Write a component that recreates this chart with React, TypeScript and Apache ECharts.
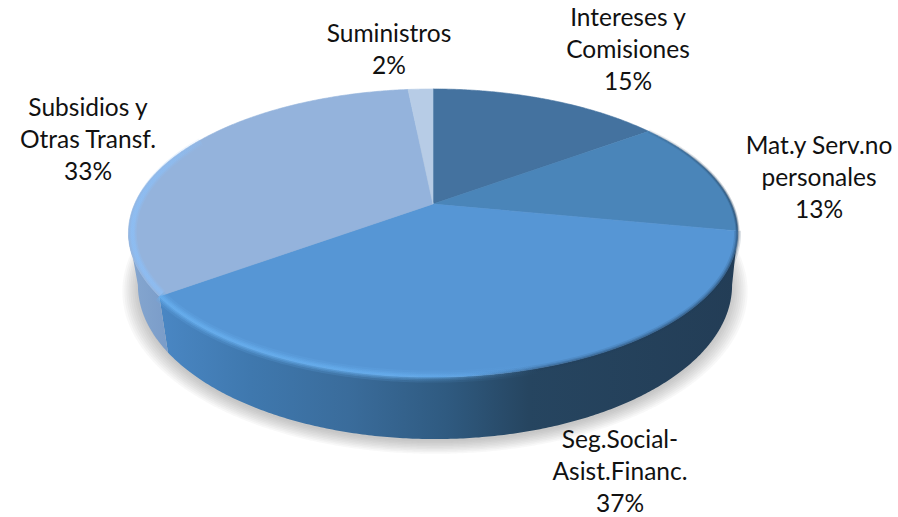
import React, { useEffect, useRef } from "react";
import * as echarts from "echarts";

const categories = ["Intereses y\nComisiones", "Mat.y Serv.no\npersonales", "Seg.Social-\nAsist.Financ.", "Subsidios y\nOtras Transf.", "Suministros"];
const shares = [15, 13, 37, 33.4, 1.6];
const topColors = ["#44729f", "#4a85b9", "#5696d5", "#94b3dc", "#b7cce6"];
const labelCentres = [[628, 0], [819, 128], [620, 422], [88, 90], [389, 16]];

const total = shares.reduce((a, b) => a + b, 0);
const K = 0.2014;
const TOP = { cx: 433, cy: 204, a: 298.3, b: 138.2 };
const BOTTOM = { cx: 435, cy: 254, a: 291, b: 147.8 };
const RAD = Math.PI / 180;
const LEFT_EXTREME = 360 - Math.acos(-K) / RAD;
const RIGHT_EXTREME = Math.acos(-K) / RAD;

const startAngle = (i: number) => (shares.slice(0, i).reduce((a, b) => a + b, 0) / total) * 360;
const project = (p: typeof TOP, deg: number, scale = 1) => {
  const u = Math.sin(deg * RAD) * scale;
  const v = -Math.cos(deg * RAD) * scale;
  const d = 1 - K * v;
  return [p.cx + (p.a * u) / d, p.cy + (p.b * v) / d];
};
const arc = (p: typeof TOP, from: number, to: number, scale = 1) => {
  const n = Math.max(2, Math.ceil(Math.abs(to - from) * 2));
  const out: number[][] = [];
  for (let i = 0; i <= n; i++) out.push(project(p, from + ((to - from) * i) / n, scale));
  return out;
};
const hGrad = (x0: number, x1: number, stops: [number, string][]) =>
  new echarts.graphic.LinearGradient(x0, 0, x1, 0, stops.map(([offset, color]) => ({ offset, color })), true);

const wallFills = [
  "#233d56",
  "#233d56",
  () => hGrad(158, 737, [[0, "#4a87c4"], [0.16, "#3f78ae"], [0.33, "#3a6c9b"], [0.5, "#2f5a80"], [0.64, "#264560"], [1, "#233d56"]]),
  () => hGrad(128, 165, [[0, "#86a7d0"], [1, "#7b9dc9"]]),
  "#7b9dc9",
];

function renderShadow(params: any) {
  if (params.dataIndex !== 0) return { type: "group", children: [] };
  const children: any[] = [];
  for (let s = 0; s < 9; s++) {
    const grow = 1.05 - s * 0.0065;
    children.push({
      type: "polygon",
      shape: { points: arc({ ...BOTTOM, cy: BOTTOM.cy + 3 }, 0, 360, grow) },
      style: { fill: "rgba(90,90,90,0.045)" },
    });
  }
  return { type: "group", children };
}
function renderWall(params: any) {
  const i = params.dataIndex;
  const a = Math.max(startAngle(i), RIGHT_EXTREME);
  const b = Math.min(startAngle(i + 1), LEFT_EXTREME);
  if (b <= a) return { type: "group", children: [] };
  const f = wallFills[i];
  const fill = typeof f === "function" ? f() : f;
  return {
    type: "polygon",
    shape: { points: [...arc(TOP, a, b), ...arc(BOTTOM, b, a)] },
    style: { fill },
  };
}
function renderTop(params: any) {
  const i = params.dataIndex;
  const c = topColors[i];
  return {
    type: "polygon",
    shape: { points: [[TOP.cx, TOP.cy], ...arc(TOP, startAngle(i), startAngle(i + 1))] },
    style: { fill: c, stroke: c, lineWidth: 0.6 },
  };
}
function renderRim(params: any) {
  const i = params.dataIndex;
  const a = startAngle(i);
  const b = startAngle(i + 1);
  const line = (from: number, to: number, scale: number, lineWidth: number, stroke: any) => ({
    type: "polyline",
    shape: { points: arc(TOP, from, to, scale) },
    style: { fill: "none", stroke, lineWidth, lineCap: "butt" },
  });
  const rgba = (rgb: string, alpha: number) => `rgba(${rgb},${alpha})`;
  const children: any[] = [];
  if (i === 2) {
    const glow = (alpha: number) =>
      hGrad(160, 540, [[0, rgba("104,176,240", alpha)], [0.6, rgba("104,176,240", alpha * 0.85)], [1, rgba("104,176,240", 0)]]);
    [[12, 0.18], [8, 0.28], [5, 0.4], [2.5, 0.45]].forEach(([w, al]) => children.push(line(b, 150, 0.998, w, glow(al))));
    const shade = (alpha: number) =>
      hGrad(735, 470, [[0, rgba("30,60,90", alpha)], [0.7, rgba("30,60,90", alpha * 0.7)], [1, rgba("30,60,90", 0)]]);
    [[7, 0.15], [4, 0.25], [2, 0.3]].forEach(([w, al]) => children.push(line(a, 178, 1, w, shade(al))));
  }
  if (i === 3) {
    const glow = (alpha: number) =>
      hGrad(128, 215, [[0, rgba("140,190,245", alpha)], [0.5, rgba("140,190,245", alpha * 0.7)], [1, rgba("140,190,245", 0)]]);
    [[8, 0.35], [5, 0.5], [3, 0.5]].forEach(([w, al]) => children.push(line(a + 0.5, 300, 0.987, w, glow(al))));
  }
  if (i === 1) {
    const shade = (alpha: number) => hGrad(640, 737, [[0, rgba("30,60,90", alpha * 0.2)], [1, rgba("30,60,90", alpha)]]);
    [[4, 0.25], [2, 0.4]].forEach(([w, al]) => children.push(line(a, b, 1, w, shade(al))));
  }
  return { type: "group", children };
}
function renderLabel(params: any) {
  const i = params.dataIndex;
  const [x, y] = labelCentres[i];
  return {
    type: "text",
    style: {
      text: `${categories[i]}\n${Math.round((shares[i] / total) * 100)}%`,
      x,
      y,
      align: "center",
      textAlign: "center",
      verticalAlign: "top",
      font: "24.5px Lato, 'Open Sans', sans-serif",
      lineHeight: 32,
      fill: "#111111",
    },
  };
}

export default function App() {
  const ref = useRef<HTMLDivElement>(null);
  useEffect(() => {
    const chart = echarts.init(ref.current!, undefined, { renderer: "svg" });
    const layer = (renderItem: any, z: number) => ({
      type: "custom",
      coordinateSystem: "none",
      silent: true,
      clip: false,
      z,
      renderItem,
      data: shares.map((s, i) => [i, s]),
    });
    chart.setOption({
      animation: false,
      backgroundColor: "#ffffff",
      series: [
        layer(renderShadow, 1),
        layer(renderWall, 2),
        layer(renderTop, 3),
        layer(renderRim, 4),
        layer(renderLabel, 5),
      ],
    });
    return () => chart.dispose();
  }, []);
  return <div ref={ref} style={{ position: "fixed", left: 0, top: 0, width: 898, height: 517 }} />;
}
